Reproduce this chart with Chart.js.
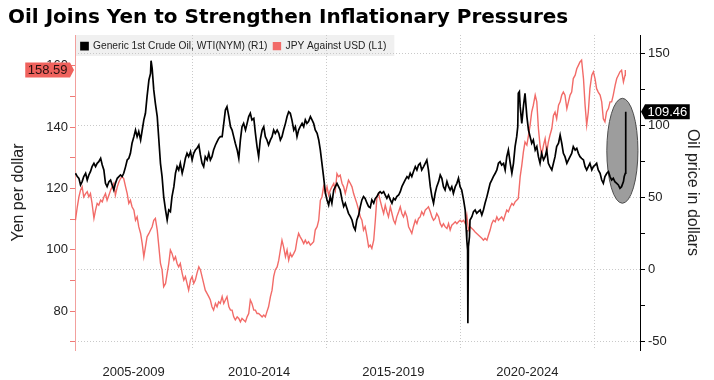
<!DOCTYPE html>
<html>
<head>
<meta charset="utf-8">
<script src="https://cdn.jsdelivr.net/npm/chart.js@4"></script>
<style>
html,body{margin:0;padding:0;background:#fff;}
#wrap{width:714px;height:380px;position:relative;}
</style>
</head>
<body>
<div id="wrap"><canvas id="c" width="714" height="380"></canvas></div>
<script>
// ---------- DATA ----------
const chartTitle = 'Oil Joins Yen to Strengthen Inflationary Pressures';
const oilName = 'Generic 1st Crude Oil, WTI(NYM) (R1)';
const jpyName = 'JPY Against USD (L1)';
const leftAxisTitle = 'Yen per dollar';
const rightAxisTitle = 'Oil price in dollars';

const oilDates = [
2005.65,2005.72,2005.78,2005.84,2005.90,2005.96,2006.03,2006.09,2006.15,2006.21,2006.27,2006.34,2006.40,2006.46,2006.52,2006.59,2006.65,2006.71,2006.77,2006.83,2006.90,2006.96,
2007.02,2007.08,2007.14,2007.21,2007.27,2007.33,2007.39,2007.45,2007.52,2007.58,2007.64,2007.70,2007.76,2007.83,2007.89,2007.95,
2008.01,2008.08,2008.14,2008.20,2008.26,2008.32,2008.39,2008.45,2008.47,2008.51,2008.57,2008.63,2008.70,2008.76,2008.82,2008.88,2008.94,
2009.01,2009.07,2009.13,2009.19,2009.25,2009.32,2009.38,2009.44,2009.50,2009.56,2009.63,2009.69,2009.75,2009.81,2009.87,2009.94,
2010.00,2010.06,2010.12,2010.18,2010.25,2010.31,2010.37,2010.43,2010.49,2010.56,2010.62,2010.68,2010.74,2010.80,2010.87,2010.93,2010.99,
2011.05,2011.12,2011.18,2011.24,2011.30,2011.37,2011.43,2011.49,2011.55,2011.61,2011.68,2011.74,2011.80,2011.86,2011.92,2011.99,
2012.05,2012.11,2012.17,2012.23,2012.30,2012.36,2012.42,2012.48,2012.54,2012.61,2012.67,2012.73,2012.79,2012.85,2012.92,2012.98,
2013.04,2013.10,2013.17,2013.23,2013.29,2013.35,2013.41,2013.48,2013.54,2013.60,2013.66,2013.72,2013.79,2013.85,2013.91,2013.97,
2014.03,2014.10,2014.16,2014.22,2014.28,2014.34,2014.41,2014.47,2014.53,2014.59,2014.66,2014.72,2014.78,2014.84,2014.90,2014.97,
2015.03,2015.09,2015.15,2015.21,2015.28,2015.34,2015.40,2015.46,2015.52,2015.59,2015.65,2015.71,2015.77,2015.83,2015.90,2015.96,
2016.02,2016.08,2016.14,2016.21,2016.27,2016.33,2016.39,2016.45,2016.52,2016.58,2016.64,2016.70,2016.77,2016.83,2016.89,2016.95,
2017.01,2017.07,2017.14,2017.20,2017.26,2017.32,2017.39,2017.45,2017.51,2017.57,2017.63,2017.70,2017.76,2017.82,2017.88,2017.94,
2018.01,2018.07,2018.13,2018.19,2018.25,2018.32,2018.38,2018.44,2018.50,2018.56,2018.63,2018.69,2018.75,2018.81,2018.88,2018.94,
2019.00,2019.06,2019.12,2019.19,2019.25,2019.31,2019.37,2019.43,2019.50,2019.56,2019.62,2019.68,2019.74,2019.81,2019.87,2019.93,2019.99,
2020.05,2020.12,2020.18,2020.22,2020.24,2020.27,2020.28,2020.30,2020.34,2020.36,2020.43,2020.49,2020.55,2020.61,2020.67,2020.74,2020.80,2020.86,2020.92,2020.99,
2021.05,2021.11,2021.17,2021.23,2021.30,2021.36,2021.42,2021.48,2021.54,2021.61,2021.67,2021.73,2021.79,2021.86,2021.92,2021.98,
2022.04,2022.10,2022.14,2022.16,2022.20,2022.23,2022.29,2022.35,2022.41,2022.48,2022.54,2022.60,2022.66,2022.72,2022.79,2022.85,2022.91,2022.97,
2023.03,2023.10,2023.16,2023.22,2023.28,2023.34,2023.41,2023.47,2023.53,2023.59,2023.66,2023.72,2023.78,2023.84,2023.90,2023.97,
2024.03,2024.09,2024.15,2024.21,2024.28,2024.34,2024.40,2024.46,2024.52,2024.59,2024.65,2024.71,2024.77,2024.83,2024.90,2024.96,
2025.02,2025.08,2025.14,2025.21,2025.27,2025.33,2025.39,2025.46,2025.52,2025.58,2025.64,2025.70,2025.76,2025.83,2025.89,2025.95,
2026.01,2026.08,2026.11,2026.15,2026.16,2026.17
];
const oilPrices = [
66.8,64.5,63.3,58.7,61.0,64.5,66.8,62.1,65.6,67.9,71.4,73.7,71.4,73.7,74.8,77.2,72.5,69.1,59.8,57.5,61.0,62.1,
58.7,55.2,59.8,63.3,64.5,65.6,64.5,66.8,71.4,76.0,77.2,80.6,87.6,92.2,96.8,92.2,
95.7,89.9,96.8,103.8,108.4,119.9,131.5,136.1,144.9,139.6,124.6,115.3,106.1,89.9,73.7,64.5,50.6,
41.3,34.4,41.3,40.2,50.6,57.5,66.8,71.4,69.1,73.7,66.8,71.4,77.2,80.6,78.3,81.8,
76.0,80.6,82.9,84.1,86.4,79.5,73.7,71.4,78.3,76.0,80.6,76.0,78.3,82.9,86.4,88.7,91.0,
92.2,92.2,101.4,110.6,113.0,106.1,99.1,96.8,92.2,87.6,83.0,77.2,89.9,99.1,101.4,96.8,
101.4,106.1,108.4,103.8,104.9,94.5,85.3,78.3,89.9,96.8,99.1,92.2,89.9,86.4,89.9,92.2,
96.8,94.5,96.8,94.5,89.9,92.2,96.8,101.4,106.1,109.5,108.4,103.8,96.8,99.1,92.2,96.8,
99.1,101.4,99.1,103.8,101.4,102.6,106.1,103.8,101.4,96.8,94.5,89.9,82.9,73.7,64.5,52.9,
48.3,44.8,50.6,46.0,55.2,57.5,59.8,57.5,55.2,48.3,43.7,46.0,42.5,39.0,36.7,34.4,
29.8,27.5,34.4,37.9,43.7,48.3,50.6,49.4,46.0,43.7,43.0,48.3,46.0,49.4,50.6,52.9,
54.0,52.9,54.0,51.7,49.4,51.7,48.3,46.0,49.4,48.3,50.6,51.7,54.0,57.5,59.8,62.1,
64.5,63.3,66.8,64.5,67.9,71.4,69.1,72.5,73.7,69.1,71.4,73.7,76.0,69.1,57.5,50.6,
46.0,52.9,57.5,61.0,65.6,63.3,57.5,55.2,61.0,57.5,55.2,57.5,52.9,57.5,59.8,63.3,57.5,
55.2,48.3,41.3,27.5,20.5,13.6,-37.3,15.9,22.8,34.4,36.7,40.2,41.3,39.0,40.2,41.3,37.9,41.3,46.0,50.6,
55.2,59.8,62.1,64.5,66.8,69.1,73.7,74.8,72.5,73.7,69.1,78.3,82.9,73.7,66.8,73.7,
85.3,92.2,99.1,122.3,123.4,113.0,101.4,113.0,122.3,106.1,96.8,92.2,87.6,89.9,82.9,85.3,78.3,73.7,
80.6,76.0,78.3,82.9,73.7,71.4,69.1,73.7,78.3,85.3,87.6,93.3,87.6,80.6,78.3,73.7,
76.0,78.3,80.6,85.3,82.9,84.1,80.6,78.3,77.2,76.0,71.4,69.1,71.4,73.7,69.1,71.4,
72.5,73.7,69.1,66.8,62.1,59.8,64.5,66.8,67.9,64.5,62.1,63.3,61.0,59.8,58.7,56.4,
57.5,61.0,64.5,66.8,66.8,109.46
];

const jpyDates = [
2005.65,2005.72,2005.78,2005.84,2005.90,2005.96,2006.03,2006.09,2006.15,2006.21,2006.27,2006.34,2006.40,2006.46,2006.52,2006.59,2006.65,2006.71,2006.77,2006.83,2006.90,2006.96,
2007.02,2007.08,2007.14,2007.21,2007.27,2007.33,2007.39,2007.45,2007.52,2007.58,2007.64,2007.70,2007.76,2007.83,2007.89,2007.95,
2008.01,2008.08,2008.14,2008.20,2008.26,2008.32,2008.39,2008.45,2008.51,2008.57,2008.63,2008.70,2008.76,2008.82,2008.88,2008.94,
2009.01,2009.07,2009.13,2009.19,2009.25,2009.32,2009.38,2009.44,2009.50,2009.56,2009.63,2009.69,2009.75,2009.81,2009.87,2009.94,
2010.00,2010.06,2010.12,2010.18,2010.25,2010.31,2010.37,2010.43,2010.49,2010.56,2010.62,2010.68,2010.74,2010.80,2010.87,2010.93,2010.99,
2011.05,2011.12,2011.18,2011.24,2011.30,2011.37,2011.43,2011.49,2011.55,2011.61,2011.68,2011.74,2011.80,2011.86,2011.92,2011.99,
2012.05,2012.11,2012.17,2012.23,2012.30,2012.36,2012.42,2012.48,2012.54,2012.61,2012.67,2012.73,2012.79,2012.85,2012.92,2012.98,
2013.04,2013.10,2013.17,2013.23,2013.29,2013.35,2013.41,2013.48,2013.54,2013.60,2013.66,2013.72,2013.79,2013.85,2013.91,2013.97,
2014.03,2014.10,2014.16,2014.22,2014.28,2014.34,2014.41,2014.47,2014.53,2014.59,2014.66,2014.72,2014.78,2014.84,2014.90,2014.97,
2015.03,2015.09,2015.15,2015.21,2015.28,2015.34,2015.40,2015.46,2015.52,2015.59,2015.65,2015.71,2015.77,2015.83,2015.90,2015.96,
2016.02,2016.08,2016.14,2016.21,2016.27,2016.33,2016.39,2016.45,2016.52,2016.58,2016.64,2016.70,2016.77,2016.83,2016.89,2016.95,
2017.01,2017.07,2017.14,2017.20,2017.26,2017.32,2017.39,2017.45,2017.51,2017.57,2017.63,2017.70,2017.76,2017.82,2017.88,2017.94,
2018.01,2018.07,2018.13,2018.19,2018.25,2018.32,2018.38,2018.44,2018.50,2018.56,2018.63,2018.69,2018.75,2018.81,2018.88,2018.94,
2019.00,2019.06,2019.12,2019.19,2019.25,2019.31,2019.37,2019.43,2019.50,2019.56,2019.62,2019.68,2019.74,2019.81,2019.87,2019.93,2019.99,
2020.05,2020.12,2020.18,2020.24,2020.30,2020.36,2020.43,2020.49,2020.55,2020.61,2020.67,2020.74,2020.80,2020.86,2020.92,2020.99,
2021.05,2021.11,2021.17,2021.23,2021.30,2021.36,2021.42,2021.48,2021.54,2021.61,2021.67,2021.73,2021.79,2021.86,2021.92,2021.98,
2022.04,2022.10,2022.16,2022.23,2022.29,2022.35,2022.41,2022.48,2022.54,2022.60,2022.66,2022.72,2022.79,2022.85,2022.91,2022.97,
2023.03,2023.10,2023.16,2023.22,2023.28,2023.34,2023.41,2023.47,2023.53,2023.59,2023.66,2023.72,2023.78,2023.84,2023.90,2023.97,
2024.03,2024.09,2024.15,2024.21,2024.28,2024.34,2024.40,2024.46,2024.52,2024.59,2024.65,2024.71,2024.77,2024.83,2024.90,2024.96,
2025.02,2025.08,2025.14,2025.21,2025.27,2025.33,2025.39,2025.45,2025.52,2025.58,2025.64,2025.70,2025.77,2025.83,2025.89,2025.95,
2026.01,2026.08,2026.14,2026.15
];
const jpyRates = [
109.6,114.0,117.2,119.4,120.5,117.2,118.3,118.9,117.2,118.3,115.1,110.2,112.9,115.1,114.5,116.2,115.6,117.2,118.3,116.1,117.8,119.4,
120.5,121.6,117.8,120.5,122.1,123.2,123.8,123.2,120.5,118.3,115.1,116.1,114.0,112.9,109.6,110.7,
107.5,105.3,102.0,97.7,100.9,104.2,105.3,106.4,107.5,109.6,110.2,106.4,101.0,95.5,93.4,87.9,
89.0,92.3,95.5,99.9,98.8,96.6,97.7,95.5,94.4,95.5,92.3,90.1,91.2,89.0,86.8,90.1,
91.2,89.0,90.1,92.3,94.4,93.4,91.2,89.0,86.8,85.7,84.7,83.6,81.4,80.3,82.5,81.4,83.0,
82.5,84.7,82.5,83.6,84.7,81.4,80.3,80.3,78.1,77.1,78.1,77.6,76.5,77.6,77.1,76.5,
78.1,79.2,83.6,82.5,80.3,80.3,79.2,79.2,78.7,78.1,78.7,78.1,79.8,81.4,84.7,86.8,
91.2,93.4,94.4,96.6,99.9,103.1,100.9,97.7,99.9,96.6,98.8,97.7,98.8,99.9,103.1,105.3,
104.2,103.1,102.0,103.1,102.0,102.6,101.5,102.0,102.6,106.4,107.5,109.6,116.1,117.2,120.5,118.3,
120.5,117.8,119.4,120.5,121.6,119.4,124.8,123.8,124.3,121.6,120.5,118.3,120.5,122.7,121.6,120.5,
118.3,116.7,115.1,112.9,110.7,109.6,106.4,107.5,104.2,100.9,101.5,100.4,103.1,109.6,117.2,118.3,
116.1,114.0,111.8,114.5,112.4,110.7,114.0,111.8,109.6,108.5,110.7,112.4,114.0,111.8,110.7,112.4,
110.7,107.5,106.4,105.3,107.5,109.6,108.5,110.2,110.7,112.4,111.3,112.9,113.4,114.0,112.4,110.7,
109.6,110.2,111.8,110.7,108.5,107.5,108.5,107.5,106.9,108.5,106.4,108.0,108.5,109.1,108.5,109.1,109.6,
109.1,109.6,108.5,111.3,106.4,107.5,106.9,106.4,105.8,105.3,104.8,104.2,103.7,103.1,103.7,103.1,
104.8,106.4,108.5,109.6,109.1,110.7,109.6,110.2,110.7,109.6,111.3,112.9,112.4,114.0,115.1,114.5,
115.6,116.1,116.7,123.8,127.5,131.9,135.1,134.1,137.3,140.6,144.9,147.1,150.4,148.2,139.5,134.1,
130.8,134.1,136.2,131.9,135.1,137.3,139.5,143.8,144.9,142.7,147.1,148.2,150.4,151.4,150.4,146.0,
148.2,150.4,151.4,155.8,156.9,159.0,160.1,161.2,161.8,155.8,147.1,140.6,144.9,152.5,156.9,158.0,
155.8,152.5,151.4,150.4,148.2,142.7,141.7,144.9,146.0,148.2,148.2,150.4,153.6,155.8,156.9,158.0,
158.5,154.7,156.9,158.59
];

const xLabelYears = [2007.82, 2012.5, 2017.5, 2022.5];
const xLabelTexts = ['2005-2009', '2010-2014', '2015-2019', '2020-2024'];
const xGridYears = [2010, 2015, 2020, 2025];
const yenTicks = [70, 80, 90, 100, 110, 120, 130, 140, 150, 160];
const yenLabelStep = 20;
const oilTicks = [-50, -25, 0, 25, 50, 75, 100, 125, 150];
const oilLabelStep = 50;
// highlighted region (in data units): centre year, centre price, half-width in years, half-height in dollars
const highlightRegion = { year: 2026.04, price: 82.4, halfYears: 0.58, halfPrice: 36.4 };

// ---------- STYLE ----------
const OIL_COLOR = '#000000';
const JPY_COLOR = '#f26b68';
const GRID_COLOR = '#c9c9c9';
const FONT = "'Liberation Sans', Arial, sans-serif";

const toPoints = (xs, ys) => xs.map((x, i) => ({ x: x, y: ys[i] }));

// legend takes no layout space: it is drawn over the top of the plot area
const overlayLegend = {
  id: 'overlayLegend',
  beforeLayout(chart) {
    const lg = chart.legend;
    if (lg && !lg._overlayPatched) {
      const origFit = lg.fit;
      lg.fit = function () { origFit.call(this); this._realHeight = this.height; this.height = 0; };
      lg._overlayPatched = true;
    }
  },
  afterLayout(chart) {
    const lg = chart.legend;
    if (lg && lg._realHeight) {
      lg.height = lg._realHeight;
      lg.bottom = lg.top + lg._realHeight;
    }
  }
};

const legendBackground = {
  id: 'legendBackground',
  beforeDraw(chart) {
    const lg = chart.legend;
    if (!lg || !lg.legendHitBoxes || !lg.legendHitBoxes.length) return;
    const hb = lg.legendHitBoxes;
    const last = hb[hb.length - 1];
    const ca = chart.chartArea;
    const ctx = chart.ctx;
    ctx.save();
    ctx.fillStyle = '#f0f0f0';
    ctx.fillRect(ca.left, ca.top, last.left + last.width + 8 - ca.left, 21);
    ctx.restore();
  }
};

const highlightEllipse = {
  id: 'highlightEllipse',
  beforeDatasetsDraw(chart) {
    const xs = chart.scales.x, ys = chart.scales.yOil, ctx = chart.ctx;
    const r = highlightRegion;
    const cx = xs.getPixelForValue(r.year), cy = ys.getPixelForValue(r.price);
    const rx = Math.abs(xs.getPixelForValue(r.year + r.halfYears) - cx);
    const ry = Math.abs(ys.getPixelForValue(r.price + r.halfPrice) - cy);
    ctx.save();
    ctx.beginPath();
    ctx.ellipse(cx, cy, rx, ry, 0, 0, Math.PI * 2);
    ctx.fillStyle = '#9d9d9d';
    ctx.fill();
    ctx.strokeStyle = '#4d4d4d';
    ctx.lineWidth = 1;
    ctx.stroke();
    ctx.restore();
  }
};

function drawTag(ctx, text, yPix, tipX, side, fill, color) {
  ctx.save();
  ctx.font = '13px ' + FONT;
  const w = ctx.measureText(text).width + 5;
  const h = 15, tip = 4;
  ctx.beginPath();
  if (side === 'left') {
    const r = tipX - tip, l = r - w;
    ctx.moveTo(l, yPix - h / 2); ctx.lineTo(r, yPix - h / 2); ctx.lineTo(tipX, yPix);
    ctx.lineTo(r, yPix + h / 2); ctx.lineTo(l, yPix + h / 2); ctx.closePath();
    ctx.fillStyle = fill; ctx.fill();
    ctx.fillStyle = color; ctx.textAlign = 'center'; ctx.textBaseline = 'middle';
    ctx.fillText(text, (l + r) / 2, yPix + 0.5);
  } else {
    const l = tipX + tip, r = l + w;
    ctx.moveTo(tipX, yPix); ctx.lineTo(l, yPix - h / 2); ctx.lineTo(r, yPix - h / 2);
    ctx.lineTo(r, yPix + h / 2); ctx.lineTo(l, yPix + h / 2); ctx.closePath();
    ctx.fillStyle = fill; ctx.fill();
    ctx.fillStyle = color; ctx.textAlign = 'center'; ctx.textBaseline = 'middle';
    ctx.fillText(text, (l + r) / 2, yPix + 0.5);
  }
  ctx.restore();
}

const lastValueTags = {
  id: 'lastValueTags',
  afterDraw(chart) {
    const ctx = chart.ctx, ca = chart.chartArea;
    const lastYen = jpyRates[jpyRates.length - 1];
    const lastOil = oilPrices[oilPrices.length - 1];
    drawTag(ctx, lastYen.toFixed(2), chart.scales.yYen.getPixelForValue(lastYen), ca.left - 1, 'left', '#ef625d', '#2a1010');
    drawTag(ctx, lastOil.toFixed(2), chart.scales.yOil.getPixelForValue(lastOil), ca.right + 1, 'right', '#000000', '#ffffff');
  }
};

const near = (a, b) => Math.abs(a - b) < 1e-6;

new Chart(document.getElementById('c'), {
  type: 'line',
  data: {
    datasets: [
      {
        label: oilName,
        data: toPoints(oilDates, oilPrices),
        borderColor: OIL_COLOR,
        backgroundColor: OIL_COLOR,
        borderWidth: 1.7,
        pointRadius: 0,
        tension: 0,
        xAxisID: 'x',
        yAxisID: 'yOil'
      },
      {
        label: jpyName,
        data: toPoints(jpyDates, jpyRates),
        borderColor: JPY_COLOR,
        backgroundColor: JPY_COLOR,
        borderWidth: 1.4,
        pointRadius: 0,
        tension: 0,
        xAxisID: 'x',
        yAxisID: 'yYen'
      }
    ]
  },
  options: {
    responsive: false,
    animation: false,
    devicePixelRatio: 1,
    layout: { padding: { left: 8, right: 0, top: 0, bottom: 0 } },
    plugins: {
      title: {
        display: true,
        text: chartTitle,
        align: 'start',
        color: '#000',
        font: { family: "'DejaVu Sans', sans-serif", size: 20, weight: 'bold' },
        padding: { top: 6, bottom: 5 }
      },
      legend: {
        display: true,
        position: 'top',
        fullSize: false,
        align: 'start',
        labels: {
          boxWidth: 7,
          boxHeight: 7,
          padding: 6,
          color: '#222',
          font: { family: FONT, size: 10.2 }
        }
      },
      tooltip: { enabled: false }
    },
    scales: {
      x: {
        type: 'linear',
        position: 'bottom',
        min: 2005.634,
        max: 2026.697,
        afterBuildTicks(scale) {
          scale.ticks = xGridYears.concat(xLabelYears).sort((a, b) => a - b).map(v => ({ value: v }));
        },
        afterFit(scale) { scale.height = 30; },
        ticks: {
          autoSkip: false,
          maxRotation: 0,
          padding: 15,
          color: '#222',
          font: { family: FONT, size: 13 },
          callback(value) {
            const i = xLabelYears.findIndex(v => near(v, value));
            return i >= 0 ? xLabelTexts[i] : '';
          }
        },
        grid: {
          drawTicks: false,
          color(ctx) { return ctx.tick && xGridYears.some(v => near(v, ctx.tick.value)) ? GRID_COLOR : 'rgba(0,0,0,0)'; },
          lineWidth: 1
        },
        border: { display: false, dash: [1, 2] }
      },
      yYen: {
        type: 'linear',
        position: 'left',
        min: 67.3,
        max: 170,
        afterBuildTicks(scale) { scale.ticks = yenTicks.map(v => ({ value: v })); },
        afterFit(scale) { scale.width = 67; },
        title: {
          display: true,
          text: leftAxisTitle,
          color: '#222',
          font: { family: FONT, size: 16 },
          padding: { top: 1, bottom: 0 }
        },
        ticks: {
          padding: 2,
          color: '#222',
          font: { family: FONT, size: 13 },
          callback(value) { return value % yenLabelStep === 0 ? String(value) : ''; }
        },
        grid: {
          drawOnChartArea: false,
          drawTicks: true,
          tickLength: 5,
          tickColor: '#ef7a76',
          color: '#ef7a76'
        },
        border: { display: true, color: '#f2a09d', width: 1 }
      },
      yOil: {
        type: 'linear',
        position: 'right',
        min: -55.8,
        max: 162.7,
        afterBuildTicks(scale) { scale.ticks = oilTicks.map(v => ({ value: v })); },
        afterFit(scale) { scale.width = 74; },
        title: {
          display: true,
          text: rightAxisTitle,
          color: '#222',
          font: { family: FONT, size: 16 },
          padding: { top: 12, bottom: 0 }
        },
        ticks: {
          padding: 3,
          color: '#222',
          font: { family: FONT, size: 13 },
          callback(value) { return value % oilLabelStep === 0 ? String(value) : ''; }
        },
        grid: {
          drawOnChartArea: true,
          drawTicks: true,
          tickLength: 5,
          tickColor: '#000',
          color(ctx) { return ctx.tick && ctx.tick.value % oilLabelStep === 0 ? GRID_COLOR : 'rgba(0,0,0,0)'; }
        },
        border: { display: true, color: '#000', width: 1, dash: [1, 2] }
      }
    }
  },
  plugins: [overlayLegend, legendBackground, highlightEllipse, lastValueTags]
});
</script>
</body>
</html>
